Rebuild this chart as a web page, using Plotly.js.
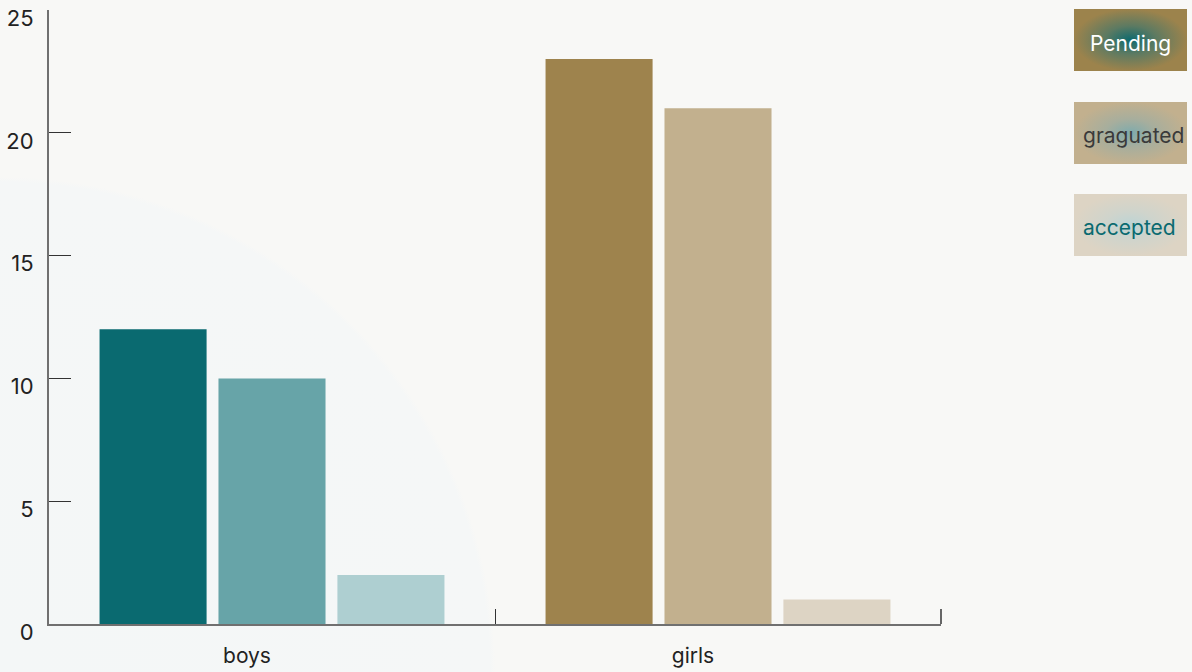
<!DOCTYPE html>
<html>
<head>
<meta charset="utf-8">
<script src="https://cdn.plot.ly/plotly-3.0.1.min.js"></script>
<style>
  html, body { margin: 0; padding: 0; }
  #chart {
    width: 1192px; height: 672px;
    background:
      radial-gradient(closest-side, #0d6a6f 0%, #5c7a62 45%, #9c834c 100%) 1074px 9px / 113px 62px no-repeat,
      radial-gradient(closest-side, #7eabad 0%, #a7ae9d 45%, #c2b08e 100%) 1074px 102px / 113px 62px no-repeat,
      radial-gradient(closest-side, #bcd4d5 0%, #cfd4cc 45%, #ddd4c4 100%) 1074px 194px / 113px 62px no-repeat,
      radial-gradient(circle 495px at 0px 672px, #f4f7f7 0, #f5f7f7 490px, #f8f8f6 495px);
  }
</style>
</head>
<body>
<div id="chart"></div>
<script>
const categories = ["boys", "girls"];
const seriesNames = ["Pending", "graguated", "accepted"];
const pending = [12, 23];
const graduated = [10, 21];
const accepted = [2, 1];
const yTicks = [0, 5, 10, 15, 20, 25];

const colors = {
  Pending: ["#0a6a70", "#9e834d"],
  graguated: ["#67a4a8", "#c2b08e"],
  accepted: ["#aecfd1", "#ddd4c4"]
};
const values = [pending, graduated, accepted];

const traces = seriesNames.map((name, i) => ({
  type: "bar",
  name: name,
  x: categories,
  y: values[i],
  marker: { color: colors[name], line: { width: 0 } },
  hoverinfo: "x+y+name"
}));

const legendStyle = [
  { text: "Pending", color: "#ffffff", y: 0.946, x: 1.2125 },
  { text: "graguated", color: "#3a3a3a", y: 0.796, x: 1.216 },
  { text: "accepted", color: "#0a6a70", y: 0.645, x: 1.2115 }
];

const fontFam = "Inter, 'Open Sans', sans-serif";

const layout = {
  width: 1192, height: 672,
  margin: { l: 49, r: 251, t: 10, b: 48 },
  paper_bgcolor: "rgba(0,0,0,0)",
  plot_bgcolor: "rgba(0,0,0,0)",
  barmode: "group",
  bargap: 0.2,
  bargroupgap: 0.1,
  showlegend: false,
  font: { family: fontFam, color: "#222" },
  xaxis: {
    type: "category",
    range: [-0.5, 1.5],
    showline: true, linecolor: "#707070", linewidth: 2,
    ticks: "inside", tickson: "boundaries", ticklen: 15, tickcolor: "#333", tickwidth: 1,
    showgrid: false, zeroline: false,
    tickfont: { size: 21, color: "#222" },
    ticklabelshift: -25,
    ticklabelstandoff: 12
  },
  yaxis: {
    range: [0, 25],
    tickvals: yTicks,
    showline: true, linecolor: "#707070", linewidth: 2,
    ticks: "inside", ticklen: 22, tickcolor: "#333", tickwidth: 1,
    showgrid: false, zeroline: false,
    tickfont: { size: 22, color: "#222" },
    ticklabelstandoff: 9,
    ticklabelshift: 8
  },
  shapes: [
    { type: "line", xref: "paper", yref: "paper", x0: 1, x1: 1, y0: 0, y1: 15 / 614,
      line: { color: "#666", width: 2 } }
  ],
  annotations: legendStyle.map(l => ({
    xref: "paper", yref: "paper",
    x: l.x, y: l.y,
    xanchor: "center", yanchor: "middle",
    text: l.text, showarrow: false,
    font: { size: 21, color: l.color, family: fontFam }
  }))
};

Plotly.newPlot("chart", traces, layout, { displayModeBar: false });
</script>
</body>
</html>
